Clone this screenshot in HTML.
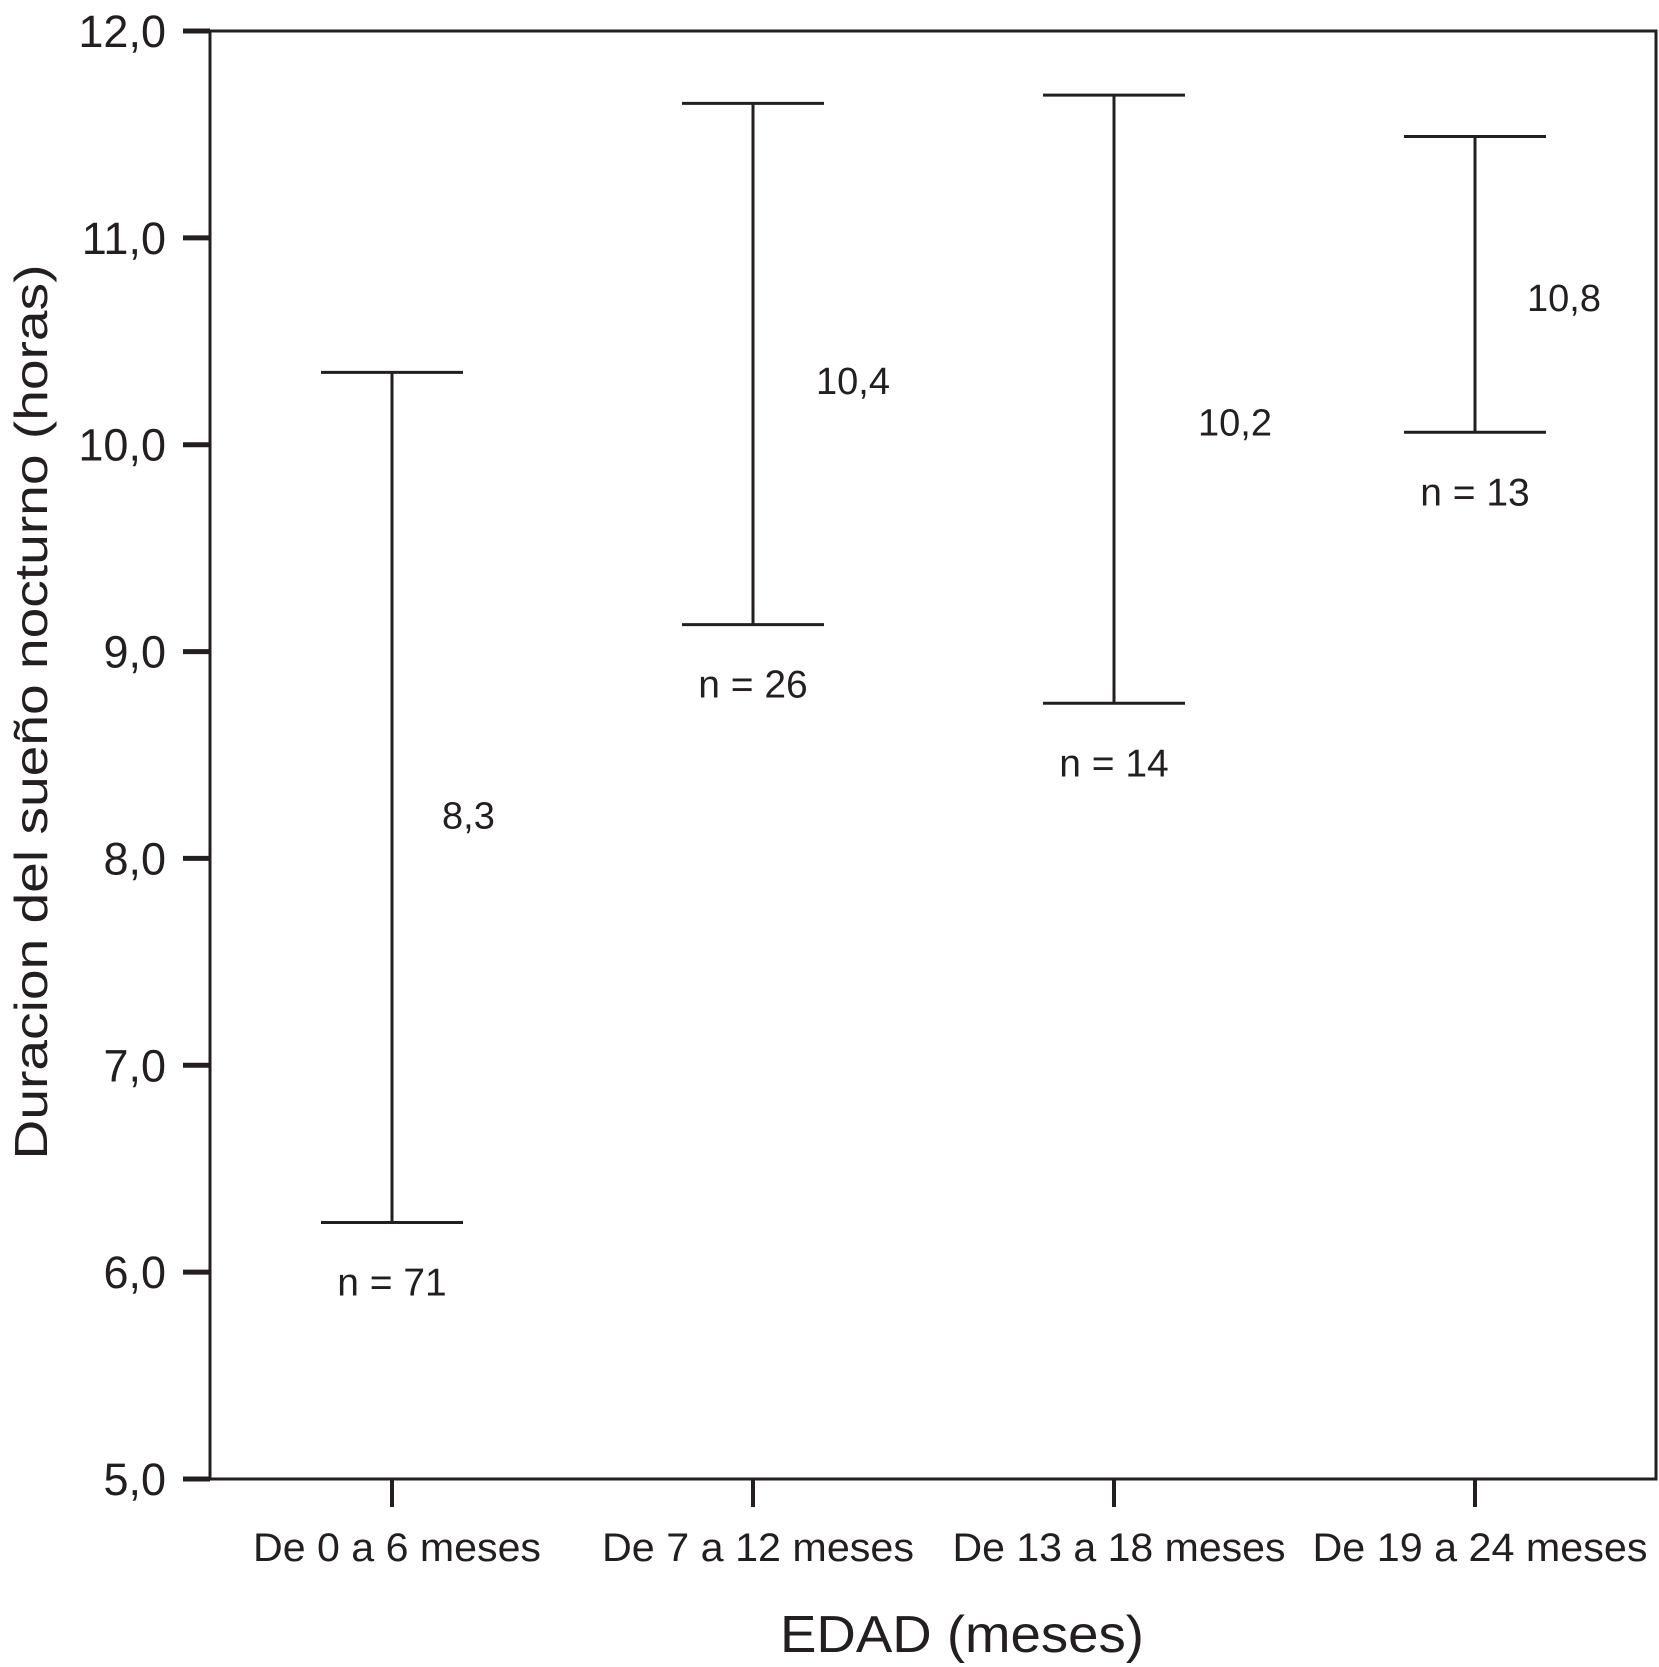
<!DOCTYPE html>
<html><head><meta charset="utf-8"><style>html,body{margin:0;padding:0;background:#fff}svg{display:block}text{font-family:"Liberation Sans",sans-serif;fill:#231f20}</style></head>
<body>
<svg id="chart" width="1659" height="1667" viewBox="0 0 1659 1667" xmlns="http://www.w3.org/2000/svg">
<g id="axes"></g><g id="bars"></g>
<text transform="translate(47,712) rotate(-90)" text-anchor="middle" font-size="46" textLength="895" lengthAdjust="spacingAndGlyphs">Duracion del sueño nocturno (horas)</text>
<text x="962" y="1652" text-anchor="middle" font-size="52" textLength="364" lengthAdjust="spacingAndGlyphs">EDAD (meses)</text>
</svg>
<script>
const categories=["De 0 a 6 meses","De 7 a 12 meses","De 13 a 18 meses","De 19 a 24 meses"];
const means=[8.3,10.4,10.2,10.8];
const meanLabels=["8,3","10,4","10,2","10,8"];
const lows=[6.24,9.13,8.75,10.06];
const highs=[10.35,11.65,11.69,11.49];
const nLabels=["n = 71","n  = 26","n  = 14","n  = 13"];
const yTicks=[5,6,7,8,9,10,11,12];
const yTickLabels=["5,0","6,0","7,0","8,0","9,0","10,0","11,0","12,0"];
const NS="http://www.w3.org/2000/svg";
const X0=210,X1=1656,Y0=1479,Y1=31;
const y=v=>Y0-(v-5)/(12-5)*(Y0-Y1);
const x=i=>392+i*361;
function mk(tag,attrs,parent,txt){const e=document.createElementNS(NS,tag);for(const k in attrs)e.setAttribute(k,attrs[k]);if(txt!=null)e.textContent=txt;parent.appendChild(e);return e;}
const ax=document.getElementById('axes'),bg=document.getElementById('bars');
let e;
e=mk('rect',{x:X0,y:Y1,width:X1-X0,height:Y0-Y1,fill:'none',stroke:'#231f20','stroke-width':3},ax);


yTicks.forEach((t,i)=>{
 e=mk('line',{x1:183,x2:X0,y1:y(t),y2:y(t),stroke:'#231f20','stroke-width':5},ax);
 
 
 e=mk('text',{x:166,y:y(t)+16,'text-anchor':'end','font-size':45},ax,yTickLabels[i]);
 
 
});
const lblW=[288,312,333,335];
categories.forEach((c,i)=>{
 e=mk('line',{x1:x(i),x2:x(i),y1:Y0,y2:1507,stroke:'#231f20','stroke-width':4},ax);
 
 
 e=mk('text',{x:x(i)+5,y:1561,'text-anchor':'middle','font-size':40,textLength:lblW[i],lengthAdjust:'spacingAndGlyphs'},ax,c);
 
 
});
const dx=[50,63,84,52];
categories.forEach((c,i)=>{
 const g=mk('g',{},bg);
 
 
 const cx=x(i);
 mk('line',{x1:cx,x2:cx,y1:y(highs[i]),y2:y(lows[i]),stroke:'#231f20','stroke-width':3},g);
 mk('line',{x1:cx-71,x2:cx+71,y1:y(highs[i]),y2:y(highs[i]),stroke:'#231f20','stroke-width':3},g);
 mk('line',{x1:cx-71,x2:cx+71,y1:y(lows[i]),y2:y(lows[i]),stroke:'#231f20','stroke-width':3},g);
 e=mk('text',{x:cx+dx[i],y:y(means[i])+32,'font-size':38},bg,meanLabels[i]);
 
 
 e=mk('text',{x:cx,y:y(lows[i])+73,'text-anchor':'middle','font-size':39,'xml:space':'preserve'},bg,nLabels[i]);
 
 
});
</script>
</body></html>
